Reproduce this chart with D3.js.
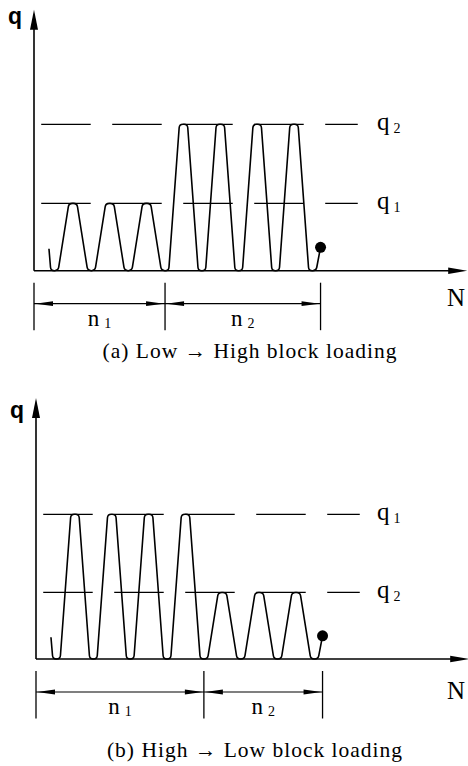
<!DOCTYPE html>
<html>
<head>
<meta charset="utf-8">
<script src="https://cdn.jsdelivr.net/npm/d3@7"></script>
<style>
  body { margin: 0; background: #fff; }
  text { font-family: "Liberation Serif", "Times New Roman", serif; fill: #000; }
</style>
</head>
<body>
<svg id="chart" width="468" height="766"></svg>
<script>
// peak load of each cycle, as a fraction of the higher level
var peaksA = [0.46, 0.46, 0.46, 1, 1, 1, 1];
var peaksB = [1, 1, 1, 1, 0.46, 0.46, 0.46];
// number of cycles in each block: n1, n2
var blocksA = [3, 4];
var blocksB = [4, 3];
var blockNames = ["1", "2"];
// reference levels (dashed lines) and their subscripts
var levelsA = [1, 0.46];
var levelSubsA = ["2", "1"];
var levelsB = [1, 0.46];
var levelSubsB = ["1", "2"];
// first half cycle starts from here, dot = failure
var startLoad = 0.15;
var failLoad = 0.16;
var failN = 7.22;
var captions = ["(a)  Low \u2192 High block loading", "(b)  High \u2192 Low block loading"];

var svg = d3.select("#chart");

var panels = [
  { peaks: peaksA, blocks: blocksA, levels: levelsA, subs: levelSubsA, caption: captions[0],
    left: 34, base: 270.7, h: 146.4, qy: 24, capX: 250, capY: 358, nY: 306 },
  { peaks: peaksB, blocks: blocksB, levels: levelsB, subs: levelSubsB, caption: captions[1],
    left: 36, base: 659, h: 144.7, qy: 418, capX: 255, capY: 757, nY: 699 }
];

// polyline with small rounded corners
function roundedPath(pts, r) {
  var p = d3.path();
  p.moveTo(pts[0][0], pts[0][1]);
  for (var i = 1; i < pts.length - 1; i++) {
    var a = pts[i - 1], v = pts[i], b = pts[i + 1];
    var da = Math.hypot(a[0] - v[0], a[1] - v[1]);
    var db = Math.hypot(b[0] - v[0], b[1] - v[1]);
    var ra = Math.min(r, da / 2), rb = Math.min(r, db / 2);
    p.lineTo(v[0] + (a[0] - v[0]) * ra / da, v[1] + (a[1] - v[1]) * ra / da);
    p.quadraticCurveTo(v[0], v[1], v[0] + (b[0] - v[0]) * rb / db, v[1] + (b[1] - v[1]) * rb / db);
  }
  var e = pts[pts.length - 1];
  p.lineTo(e[0], e[1]);
  return p.toString();
}

function arrowHead(g, tipX, tipY, dx, dy, len, hw) {
  // dx,dy: unit direction of the arrow
  var bx = tipX - dx * len, by = tipY - dy * len;
  g.append("path")
    .attr("d", "M" + tipX + "," + tipY +
      "L" + (bx - dy * hw) + "," + (by + dx * hw) +
      "L" + (bx + dy * hw) + "," + (by - dx * hw) + "Z")
    .attr("fill", "#000");
}

panels.forEach(function(P) {
  var g = svg.append("g");
  var x = d3.scaleLinear().domain([-0.556, 11.2]).range([P.left, P.left + 36.85 * 11.756]);
  var y = d3.scaleLinear().domain([0, 1]).range([P.base, P.base - P.h]);
  var yTopPx = P.base - 261;

  // axes
  g.append("line").attr("x1", x(-0.556)).attr("y1", P.base).attr("x2", x(11.2) - 10).attr("y2", P.base)
    .attr("stroke", "#000").attr("stroke-width", 1.6);
  arrowHead(g, x(11.2), P.base, 1, 0, 19, 3.2);
  g.append("line").attr("x1", P.left).attr("y1", P.base).attr("x2", P.left).attr("y2", yTopPx + 10)
    .attr("stroke", "#000").attr("stroke-width", 1.6);
  arrowHead(g, P.left, yTopPx, 0, -1, 20, 4);
  g.append("text").attr("x", P.left - 26).attr("y", P.qy)
    .style("font-family", "'Liberation Sans', Arial, sans-serif").style("font-weight", "bold")
    .style("font-size", "23px").text("q");
  g.append("text").attr("x", 447).attr("y", P.nY).style("font-size", "25px").text("N");

  // dashed reference levels
  P.levels.forEach(function(lv, i) {
    g.append("line").attr("x1", x(-0.36)).attr("x2", x(8.23)).attr("y1", y(lv)).attr("y2", y(lv))
      .attr("stroke", "#000").attr("stroke-width", 1.2).attr("stroke-dasharray", "49.5,21.5");
    var t = g.append("text").attr("x", 377).attr("y", y(lv) + 6).style("font-size", "25px");
    t.append("tspan").text("q");
    t.append("tspan").attr("dx", 4).attr("dy", 3).style("font-size", "14px").text(P.subs[i]);
  });

  // load history
  var pts = [[x(-0.15), y(startLoad)], [x(-0.1), y(0)]];
  P.peaks.forEach(function(pk, i) {
    pts.push([x(i + 0.1), y(0)], [x(i + 0.39), y(pk)], [x(i + 0.61), y(pk)], [x(i + 0.9), y(0)]);
  });
  pts.push([x(P.peaks.length + 0.1), y(0)], [x(failN), y(failLoad)]);
  g.append("path").attr("d", roundedPath(pts, 3.5))
    .attr("fill", "none").attr("stroke", "#000").attr("stroke-width", 1.6);
  g.append("circle").attr("cx", x(failN)).attr("cy", y(failLoad)).attr("r", 5.5).attr("fill", "#000");

  // block dimensions n1, n2
  var bounds = [-0.556];
  var acc = 0;
  P.blocks.forEach(function(c, i) {
    acc += c;
    bounds.push(i === P.blocks.length - 1 ? failN : acc);
  });
  var dimY = P.base + 33;
  bounds.forEach(function(b) {
    g.append("line").attr("x1", x(b)).attr("x2", x(b)).attr("y1", P.base + 12).attr("y2", P.base + 59.5)
      .attr("stroke", "#000").attr("stroke-width", 1.3);
  });
  g.append("line").attr("x1", x(bounds[0])).attr("x2", x(bounds[bounds.length - 1]))
    .attr("y1", dimY).attr("y2", dimY).attr("stroke", "#000").attr("stroke-width", 1.2);
  for (var i = 0; i < bounds.length - 1; i++) {
    var x0 = x(bounds[i]), x1 = x(bounds[i + 1]);
    arrowHead(g, x0 + 1, dimY, -1, 0, 18, 2.4);
    arrowHead(g, x1 - 1, dimY, 1, 0, 18, 2.4);
    var t = g.append("text").attr("x", (x0 + x1) / 2).attr("y", P.base + 55)
      .attr("text-anchor", "middle").style("font-size", "23px");
    t.append("tspan").text("n");
    t.append("tspan").attr("dx", 5).attr("dy", 2).style("font-size", "14px").text(blockNames[i]);
  }

  g.append("text").attr("x", P.capX).attr("y", P.capY).attr("text-anchor", "middle")
    .style("font-size", "21.5px").style("letter-spacing", "1px").text(P.caption);
});
</script>
</body>
</html>
